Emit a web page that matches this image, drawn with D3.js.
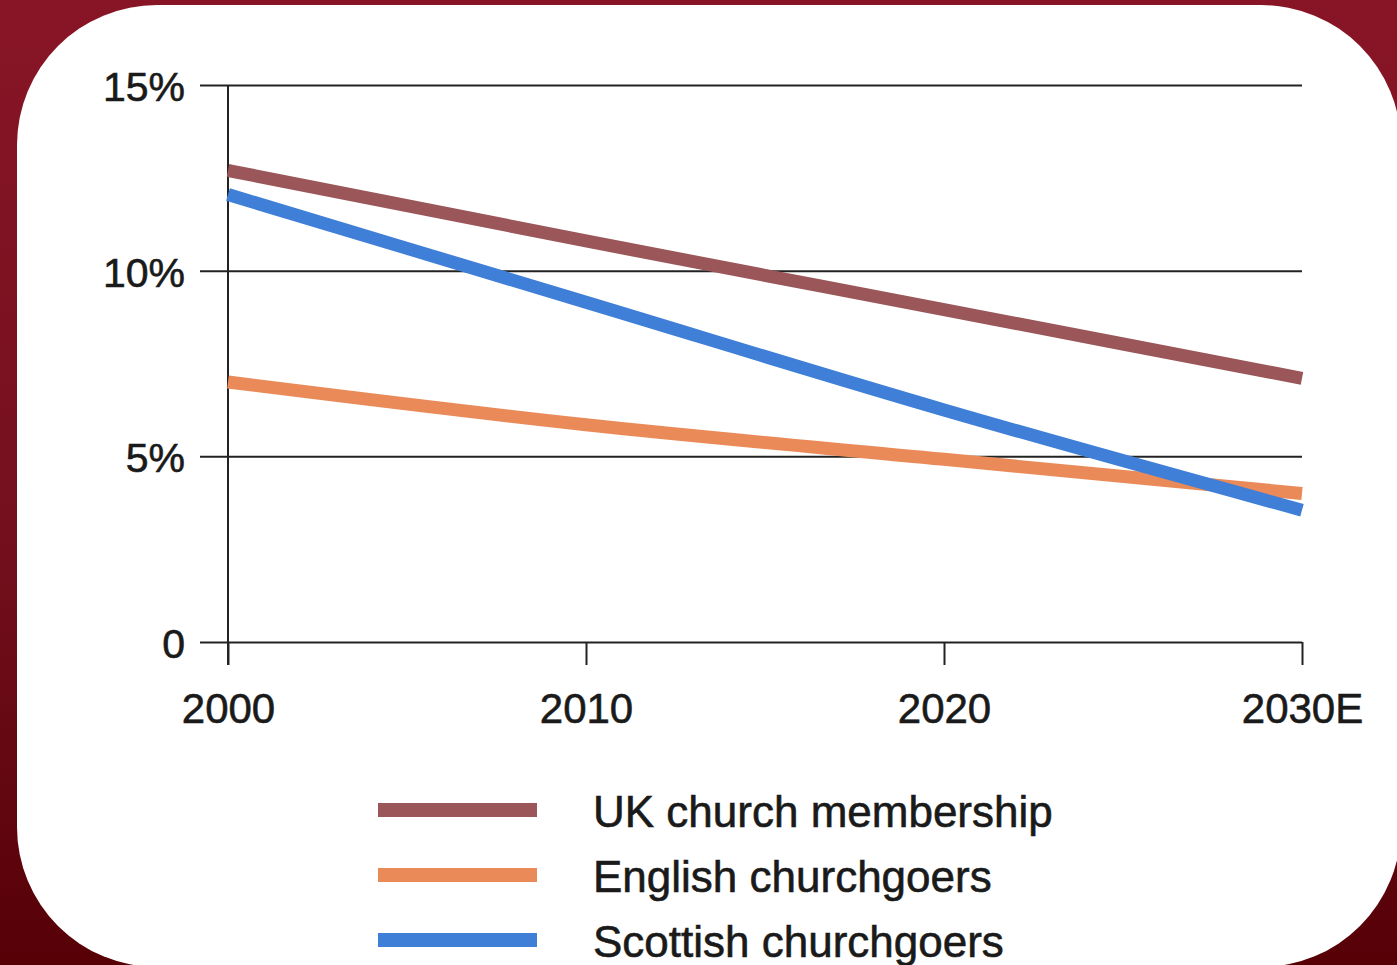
<!DOCTYPE html>
<html>
<head>
<meta charset="utf-8">
<script src="https://cdn.jsdelivr.net/npm/d3@7"></script>
<style>
  html, body { margin: 0; padding: 0; overflow: hidden; }
  svg { display: block; }
  .axis text, .legend text {
    font-family: "Liberation Sans", Arial, sans-serif;
    fill: #1a1a1a;
    stroke: #1a1a1a;
    stroke-width: 0.6px;
  }
</style>
</head>
<body>
<svg id="chart"></svg>
<script>
// data
const years = [2000, 2010, 2020, 2030];
const yearLabels = ["2000", "2010", "2020", "2030E"];
const yTicks = [0, 5, 10, 15];
const yTickLabels = ["0", "5%", "10%", "15%"];

const seriesNames = ["UK church membership", "English churchgoers", "Scottish churchgoers"];
const ukMembership = [12.7, 10.8, 8.95, 7.1];
const englishGoers = [7.0, 5.85, 4.92, 4.0];
const scottishGoers = [12.05, 9.15, 6.25, 3.55];
const seriesColors = ["#9a5658", "#e98a58", "#3f7fd8"];

const W = 1397, H = 965;

const svg = d3.select("#chart").attr("width", W).attr("height", H);

// background gradient + white card
const defs = svg.append("defs");
const grad = defs.append("linearGradient")
  .attr("id", "bg")
  .attr("x1", 0).attr("y1", 0).attr("x2", 0).attr("y2", 1);
grad.append("stop").attr("offset", "0%").attr("stop-color", "#881526");
grad.append("stop").attr("offset", "55%").attr("stop-color", "#74101d");
grad.append("stop").attr("offset", "100%").attr("stop-color", "#560006");

svg.append("rect").attr("width", W).attr("height", H).attr("fill", "url(#bg)");
svg.append("rect")
  .attr("x", 17).attr("y", 5)
  .attr("width", 1384).attr("height", 962)
  .attr("rx", 140).attr("ry", 140)
  .attr("fill", "#ffffff");

// scales
const x = d3.scaleLinear().domain([2000, 2030]).range([228, 1302]);
const y = d3.scaleLinear().domain([0, 15]).range([642, 85]);

// y axis with gridlines
const yAxis = d3.axisLeft(y)
  .tickValues(yTicks)
  .tickFormat((d, i) => yTickLabels[i])
  .tickSize(-(x.range()[1] - 200))
  .tickPadding(15);

const gy = svg.append("g")
  .attr("class", "axis")
  .attr("transform", "translate(200,0)")
  .call(yAxis);
gy.select(".domain").remove();
gy.selectAll(".tick line").attr("stroke", "#222").attr("stroke-width", 2);
gy.selectAll(".tick text").attr("font-size", 41).attr("dy", "0.38em");

// vertical axis line
svg.append("line")
  .attr("x1", x(2000)).attr("x2", x(2000))
  .attr("y1", y(15)).attr("y2", y(0) + 23)
  .attr("stroke", "#222").attr("stroke-width", 2);

// x axis
const xAxis = d3.axisBottom(x)
  .tickValues(years)
  .tickFormat((d, i) => yearLabels[i])
  .tickSizeInner(23)
  .tickSizeOuter(0)
  .tickPadding(28);

const gx = svg.append("g")
  .attr("class", "axis")
  .attr("transform", `translate(0,${y(0)})`)
  .call(xAxis);
gx.select(".domain").remove();
gx.selectAll(".tick line").attr("stroke", "#222").attr("stroke-width", 2);
gx.selectAll(".tick text").attr("font-size", 42);

// lines
const seriesValues = [ukMembership, englishGoers, scottishGoers];
const line = d3.line()
  .x(d => x(d.year))
  .y(d => y(d.value))
  .curve(d3.curveMonotoneX);

seriesValues.forEach((vals, i) => {
  const pts = years.map((yr, j) => ({ year: yr, value: vals[j] }));
  svg.append("path")
    .datum(pts)
    .attr("fill", "none")
    .attr("stroke", seriesColors[i])
    .attr("stroke-width", 13)
    .attr("d", line);
});

// legend
const legend = svg.append("g").attr("class", "legend").attr("transform", "translate(378,810)");
seriesNames.forEach((name, i) => {
  const row = legend.append("g").attr("transform", `translate(0,${i * 65})`);
  row.append("line")
    .attr("x1", 0).attr("x2", 159)
    .attr("y1", 0).attr("y2", 0)
    .attr("stroke", seriesColors[i])
    .attr("stroke-width", 14);
  row.append("text")
    .attr("x", 215)
    .attr("y", 17)
    .attr("font-size", 44)
    .text(name);
});
</script>
</body>
</html>
